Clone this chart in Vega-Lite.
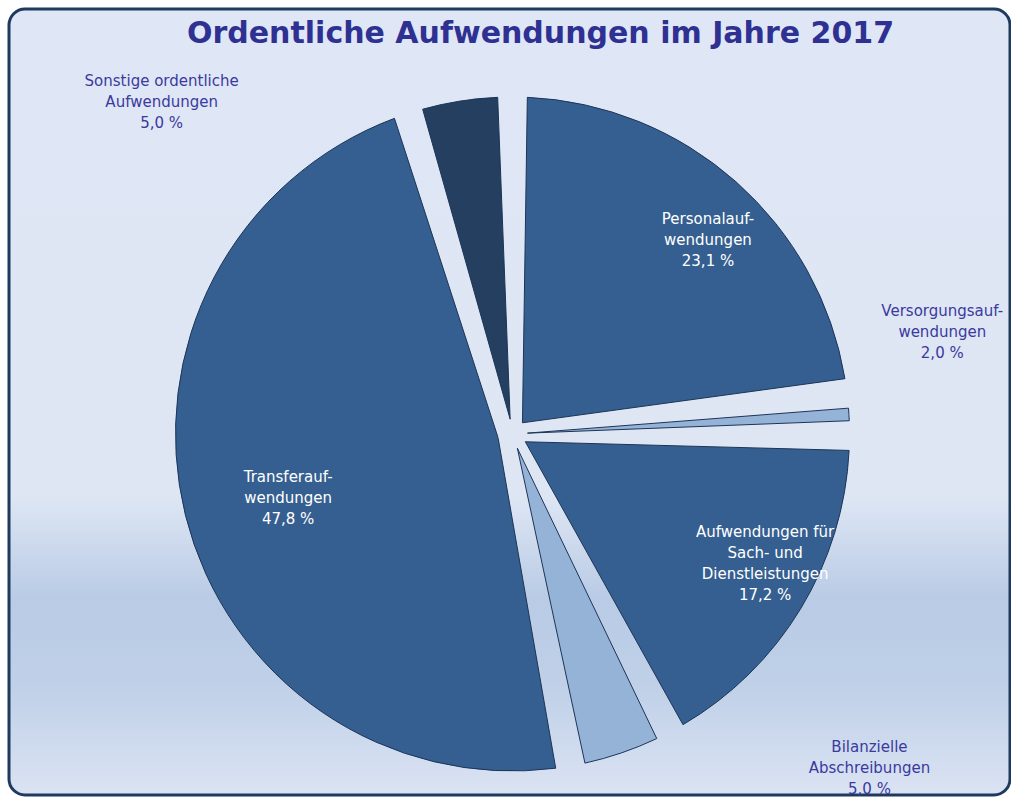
{
  "$schema": "https://vega.github.io/schema/vega-lite/v6.json",
  "width": 1001,
  "height": 786,
  "autosize": "none",
  "padding": {"left": 9, "top": 9, "right": 1, "bottom": 3},
  "background": "#ffffff",
  "title": {
    "text": "Ordentliche Aufwendungen im Jahre 2017",
    "font": "DejaVu Sans",
    "fontWeight": "bold",
    "fontSize": 30,
    "color": "#2e3192",
    "anchor": "middle",
    "baseline": "alphabetic",
    "dx": 31,
    "offset": -64
  },
  "view": {
    "fill": {
      "gradient": "linear",
      "x1": 0, "y1": 0, "x2": 0, "y2": 1,
      "stops": [
        {"offset": 0, "color": "#dfe6f5"},
        {"offset": 0.62, "color": "#dee6f4"},
        {"offset": 0.75, "color": "#b9cbe5"},
        {"offset": 0.86, "color": "#bfd0e8"},
        {"offset": 1, "color": "#dbe3f3"}
      ]
    },
    "stroke": "#1f3a5f",
    "strokeWidth": 3,
    "cornerRadius": 16
  },
  "data": {
    "values": [
      {"order": 1, "name": "Personalaufwendungen", "value": 23.1, "label": "Personalauf-\nwendungen\n23,1 %"},
      {"order": 2, "name": "Versorgungsaufwendungen", "value": 2.0, "label": "Versorgungsauf-\nwendungen\n2,0 %"},
      {"order": 3, "name": "Aufwendungen für Sach- und Dienstleistungen", "value": 17.2, "label": "Aufwendungen für\nSach- und\nDienstleistungen\n17,2 %"},
      {"order": 4, "name": "Bilanzielle Abschreibungen", "value": 5.0, "label": "Bilanzielle\nAbschreibungen\n5,0 %"},
      {"order": 5, "name": "Transferaufwendungen", "value": 47.8, "label": "Transferauf-\nwendungen\n47,8 %"},
      {"order": 6, "name": "Sonstige ordentliche Aufwendungen", "value": 5.0, "label": "Sonstige ordentliche\nAufwendungen\n5,0 %"}
    ]
  },
  "transform": [
    {"stack": "value", "groupby": [], "sort": [{"field": "order", "order": "ascending"}], "as": ["v0", "v1"]}
  ],
  "layer": [
    {
      "mark": {"type": "arc", "outerRadius": 337, "innerRadius": 15, "padAngle": 0.088, "stroke": "#1c3557", "strokeWidth": 1, "xOffset": 3, "yOffset": 32},
      "encoding": {
        "theta": {"field": "v0", "type": "quantitative", "scale": {"domain": [0, 100.1]}},
        "theta2": {"field": "v1"},
        "color": {
          "field": "name", "type": "nominal", "legend": null,
          "scale": {
            "domain": ["Personalaufwendungen", "Versorgungsaufwendungen", "Aufwendungen für Sach- und Dienstleistungen", "Bilanzielle Abschreibungen", "Transferaufwendungen", "Sonstige ordentliche Aufwendungen"],
            "range": ["#365f91", "#95b3d7", "#365f91", "#95b3d7", "#365f91", "#243f60"]
          }
        }
      }
    },
    {
      "transform": [{"filter": "datum.order == 1"}],
      "mark": {"type": "text", "font": "DejaVu Sans", "fontSize": 15, "lineBreak": "\n", "lineHeight": 21, "align": "center", "baseline": "middle", "fill": "#ffffff", "radius": 276, "thetaOffset": 0.787, "xOffset": 3, "yOffset": 32, "dy": -20},
      "encoding": {"theta": {"field": "v0", "type": "quantitative"}, "text": {"field": "label"}}
    },
    {
      "transform": [{"filter": "datum.order == 3"}],
      "mark": {"type": "text", "font": "DejaVu Sans", "fontSize": 15, "lineBreak": "\n", "lineHeight": 21, "align": "center", "baseline": "middle", "fill": "#ffffff", "radius": 283, "thetaOffset": 0.463, "xOffset": 3, "yOffset": 32, "dy": -30},
      "encoding": {"theta": {"field": "v0", "type": "quantitative"}, "text": {"field": "label"}}
    },
    {
      "transform": [{"filter": "datum.order == 5"}],
      "mark": {"type": "text", "font": "DejaVu Sans", "fontSize": 15, "lineBreak": "\n", "lineHeight": 21, "align": "center", "baseline": "middle", "fill": "#ffffff", "radius": 233, "thetaOffset": 1.47, "xOffset": 3, "yOffset": 32, "dy": -20},
      "encoding": {"theta": {"field": "v0", "type": "quantitative"}, "text": {"field": "label"}}
    },
    {
      "transform": [{"filter": "datum.order == 2"}],
      "mark": {"type": "text", "font": "DejaVu Sans", "fontSize": 15, "lineBreak": "\n", "lineHeight": 21, "align": "center", "baseline": "middle", "fill": "#3a3a9e", "radius": 442, "thetaOffset": -0.115, "xOffset": 3, "yOffset": 32, "dy": -20},
      "encoding": {"theta": {"field": "v0", "type": "quantitative"}, "text": {"field": "label"}}
    },
    {
      "transform": [{"filter": "datum.order == 4"}],
      "mark": {"type": "text", "font": "DejaVu Sans", "fontSize": 15, "lineBreak": "\n", "lineHeight": 21, "align": "center", "baseline": "middle", "fill": "#3a3a9e", "radius": 488, "thetaOffset": -0.334, "xOffset": 3, "yOffset": 32, "dy": -20},
      "encoding": {"theta": {"field": "v0", "type": "quantitative"}, "text": {"field": "label"}}
    },
    {
      "transform": [{"filter": "datum.order == 6"}],
      "mark": {"type": "text", "font": "DejaVu Sans", "fontSize": 15, "lineBreak": "\n", "lineHeight": 21, "align": "center", "baseline": "middle", "fill": "#3a3a9e", "radius": 484, "thetaOffset": -0.497, "xOffset": 3, "yOffset": 32, "dy": -20},
      "encoding": {"theta": {"field": "v0", "type": "quantitative"}, "text": {"field": "label"}}
    }
  ]
}
